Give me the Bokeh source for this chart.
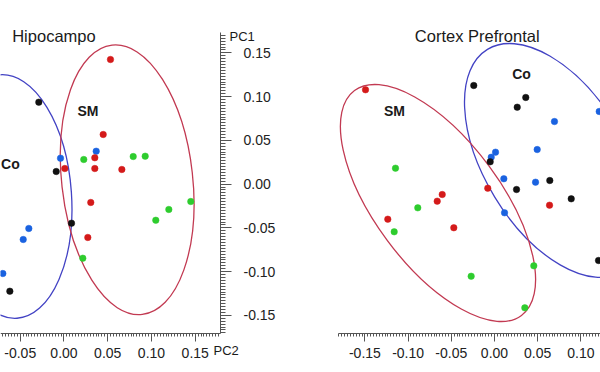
from bokeh.plotting import figure
from bokeh.layouts import row
from bokeh.models import FixedTicker, PrintfTickFormatter, Label, ColumnDataSource, Range1d, LinearAxis
from bokeh.embed import file_html
from bokeh.resources import INLINE

# ---------------- data ----------------
PALETTE = {"r": "#d41a1a", "k": "#111111", "b": "#1a62e0", "g": "#2ecc2e"}

# Hipocampo (PC2 on x, PC1 on y)
hip_pc2 = [0.0531, -0.0288, 0.0448, 0.0368, -0.0040, 0.0226, 0.0352, 0.0791, 0.0928, -0.0089,
           0.0009, 0.0352, 0.0661, 0.0306, 0.1449, 0.1198, 0.1049, 0.0086, -0.0402, -0.0466,
           0.0272, 0.0215, -0.0699, -0.0619]
hip_pc1 = [0.1424, 0.0936, 0.0567, 0.0376, 0.0296, 0.0281, 0.0301, 0.0315, 0.0319, 0.0144,
           0.0178, 0.0178, 0.0167, -0.0210, -0.0199, -0.0290, -0.0413, -0.0447, -0.0507, -0.0633,
           -0.0610, -0.0847, -0.1022, -0.1224]
hip_grp = ["r", "k", "r", "b", "b", "g", "r", "g", "g", "k",
           "r", "r", "r", "r", "g", "g", "g", "k", "b", "b",
           "r", "g", "b", "k"]

# Cortex Prefrontal
ctx_pc2 = [-0.1493, -0.0240, 0.0362, 0.0263, 0.1212, 0.0694, 0.0494, 0.0012, -0.0038, -0.0050,
           -0.1146, 0.0108, 0.0475, 0.0640, -0.0078, 0.0255, 0.0888, -0.0605, -0.0663, 0.0637,
           -0.0888, -0.1235, -0.0471, 0.0116, -0.1161, 0.1204, 0.0455, -0.0270, 0.0351]
ctx_pc1 = [0.1078, 0.1127, 0.0990, 0.0879, 0.0830, 0.0715, 0.0395, 0.0365, 0.0307, 0.0255,
           0.0182, 0.0061, 0.0022, 0.0041, -0.0047, -0.0062, -0.0168, -0.0119, -0.0195, -0.0241,
           -0.0271, -0.0401, -0.0499, -0.0328, -0.0545, -0.0873, -0.0934, -0.1053, -0.1414]
ctx_grp = ["r", "k", "k", "k", "b", "b", "b", "b", "b", "k",
           "g", "b", "b", "k", "r", "k", "k", "r", "r", "r",
           "g", "r", "r", "b", "g", "k", "g", "g", "g"]

# confidence ellipses: centre, width, height (data units), rotation (deg)
hip_ell_x = [-0.0634, 0.0722]
hip_ell_y = [-0.0142, 0.0049]
hip_ell_w = [0.1440, 0.1497]
hip_ell_h = [0.2789, 0.3097]
hip_ell_a = [4.0, 6.4]
hip_ell_c = ["#4343c4", "#c23a52"]

ctx_ell_x = [0.0700, -0.0654]
ctx_ell_y = [0.0270, -0.0216]
ctx_ell_w = [0.3009, 0.3241]
ctx_ell_h = [0.1611, 0.1440]
ctx_ell_a = [-58.7, -53.4]
ctx_ell_c = ["#4343c4", "#c23a52"]

major_ticks = [-0.15, -0.10, -0.05, 0.0, 0.05, 0.10, 0.15]
minor_ticks = [round(-0.25 + i * 0.05 / 15, 6) for i in range(151)]

# axis extents (data units)
PC1_MIN, PC1_MAX = -0.17074, 0.17326
HIP_PC2_MIN, HIP_PC2_MAX = -0.07257, 0.17886
CTX_PC2_MIN, CTX_PC2_MAX = -0.18056, 0.12269

FONT = "Liberation Sans"
AXIS_COLOR = "#555555"


def make_axis(loc, bounds, tick_out, minor_out, standoff):
    lo, hi = bounds
    ax = LinearAxis(fixed_location=loc, bounds=bounds)
    ax.ticker = FixedTicker(ticks=[t for t in major_ticks if lo <= t <= hi],
                            minor_ticks=[t for t in minor_ticks if lo <= t <= hi])
    ax.formatter = PrintfTickFormatter(format="%.2f")
    ax.axis_line_color = AXIS_COLOR
    ax.major_tick_line_color = AXIS_COLOR
    ax.minor_tick_line_color = AXIS_COLOR
    ax.major_tick_in = 0
    ax.minor_tick_in = 0
    ax.major_tick_out = tick_out
    ax.minor_tick_out = minor_out
    ax.major_label_standoff = standoff
    ax.major_label_text_font = FONT
    ax.major_label_text_font_size = "14px"
    ax.major_label_text_color = "#222222"
    return ax


def add_points(p, xs, ys, grp):
    src = ColumnDataSource(dict(x=xs, y=ys, c=[PALETTE[g] for g in grp]))
    p.scatter("x", "y", source=src, size=6.5, fill_color="c", line_color="c", line_width=0.5)


def add_ellipses(p, ex, ey, ew, eh, ea, ec):
    src = ColumnDataSource(dict(x=ex, y=ey, w=ew, h=eh, a=ea, c=ec))
    p.ellipse(x="x", y="y", width="w", height="h", angle="a", angle_units="deg",
              source=src, fill_color=None, line_color="c", line_width=1.3)


def lbl(p, x, y, text, size, bold=False, align="left", baseline="middle"):
    p.add_layout(Label(x=x, y=y, text=text, text_font=FONT, text_font_size=size,
                       text_font_style="bold" if bold else "normal", text_color="#1a1a1a",
                       text_align=align, text_baseline=baseline))


def base_fig(x0, x1):
    p = figure(width=300, height=372, output_backend="svg", toolbar_location=None,
               x_range=Range1d(x0, x1), y_range=Range1d(-0.21531, 0.20983),
               x_axis_location=None, y_axis_location=None, min_border=0)
    p.outline_line_color = None
    p.grid.visible = False
    return p


# ---------------- left: Hipocampo ----------------
p1 = base_fig(-0.07257, 0.27029)
p1.add_layout(make_axis(PC1_MIN, (HIP_PC2_MIN, HIP_PC2_MAX), 8, 3, 6), "below")
p1.add_layout(make_axis(HIP_PC2_MAX, (PC1_MIN, PC1_MAX), 11, 5, 12), "right")
add_ellipses(p1, hip_ell_x, hip_ell_y, hip_ell_w, hip_ell_h, hip_ell_a, hip_ell_c)
add_points(p1, hip_pc2, hip_pc1, hip_grp)
lbl(p1, -0.0592, 0.1698, "Hipocampo", "16.5px", baseline="alphabetic")
lbl(p1, 0.0274, 0.0841, "SM", "14px", bold=True, align="center")
lbl(p1, -0.0612, 0.0235, "Co", "14px", bold=True, align="center")
lbl(p1, 0.1891, 0.1687, "PC1", "13px")
lbl(p1, 0.1709, -0.1902, "PC2", "13px")

# ---------------- right: Cortex Prefrontal ----------------
p2 = base_fig(-0.22454, 0.12269)
p2.add_layout(make_axis(PC1_MIN, (CTX_PC2_MIN, CTX_PC2_MAX), 8, 3, 6), "below")
add_ellipses(p2, ctx_ell_x, ctx_ell_y, ctx_ell_w, ctx_ell_h, ctx_ell_a, ctx_ell_c)
add_points(p2, ctx_pc2, ctx_pc1, ctx_grp)
lbl(p2, -0.0200, 0.1698, "Cortex Prefrontal", "16.5px", align="center", baseline="alphabetic")
lbl(p2, 0.0313, 0.1264, "Co", "14px", bold=True, align="center")
lbl(p2, -0.1157, 0.0835, "SM", "14px", bold=True, align="center")

layout = row(p1, p2)
open("out.html", "w").write(file_html(layout, INLINE))
